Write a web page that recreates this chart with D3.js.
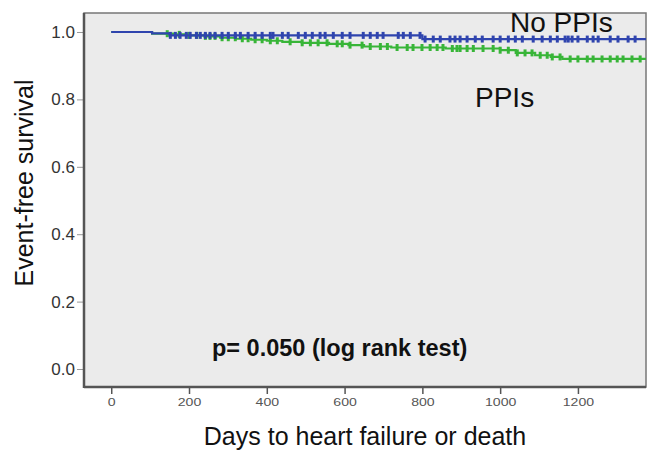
<!DOCTYPE html>
<html>
<head>
<meta charset="utf-8">
<script src="https://cdn.jsdelivr.net/npm/d3@7"></script>
<style>
  body { margin: 0; background: #fff; }
  text { font-family: "Liberation Sans", Arial, sans-serif; }
</style>
</head>
<body>
<div id="chart-area"></div>
<script>
// Dados (Kaplan-Meier)
const xTicks = [0, 200, 400, 600, 800, 1000, 1200]
const yTicks = [0.0, 0.2, 0.4, 0.6, 0.8, 1.0]

// PPIs (verde): tempos dos eventos e sobrevida apos cada evento
const ppiTimes = [0, 105, 160, 200, 240, 280, 320, 360, 400, 440, 490, 560, 610, 650, 720, 860, 1000, 1040, 1090, 1130, 1160, 1375]
const ppiSurv  = [1.0, 0.995, 0.993, 0.990, 0.987, 0.983, 0.980, 0.977, 0.974, 0.971, 0.968, 0.965, 0.961, 0.957, 0.954, 0.951, 0.946, 0.938, 0.931, 0.926, 0.920, 0.920]
const ppiCensor = [144, 175, 200, 220, 242, 254, 267, 285, 301, 319, 337, 352, 370, 388, 409, 427,
  460, 491, 512, 532, 555, 581, 594, 614, 645, 666, 692, 710, 735, 761, 776, 799, 820, 838, 853, 877, 889,
  897, 915, 931, 956, 982, 1000, 1021, 1044, 1064, 1082, 1103, 1121, 1134, 1154, 1180, 1200, 1224, 1239,
  1262, 1283, 1301, 1316, 1339, 1360]

// No PPIs (azul)
const noPpiTimes = [0, 105, 150, 800, 1375]
const noPpiSurv  = [1.0, 0.996, 0.990, 0.979, 0.979]
const noPpiCensor = [152, 165, 177, 193, 203, 219, 229, 242, 254, 267, 285, 301, 319, 332, 352, 370, 388, 409,
  416, 440, 455, 481, 499, 517, 537, 550, 571, 594, 614, 648, 666, 684, 699, 738, 751, 769, 794, 807, 828, 846,
  871, 884, 897, 915, 936, 954, 982, 1000, 1021, 1039, 1057, 1085, 1108, 1129, 1147, 1167, 1175, 1185, 1200,
  1224, 1239, 1252, 1283, 1303, 1329, 1347]

const COLORS = { ppi: "#38b538", noPpi: "#2f44ae" }

// Area do grafico
const PLOT = { LEFT: 84, RIGHT: 646, TOP: 13, BOTTOM: 387 }

const svg = d3.select("#chart-area").append("svg")
  .attr("width", 647)
  .attr("height", 452)

const x = d3.scaleLinear()
  .domain([-70, 1375])
  .range([PLOT.LEFT, PLOT.RIGHT])

const y = d3.scaleLinear()
  .domain([-0.0534, 1.0564])
  .range([PLOT.BOTTOM, PLOT.TOP])

// fundo cinza
svg.append("rect")
  .attr("x", PLOT.LEFT)
  .attr("y", PLOT.TOP)
  .attr("width", PLOT.RIGHT - PLOT.LEFT)
  .attr("height", PLOT.BOTTOM - PLOT.TOP)
  .attr("fill", "#ebebeb")
  .attr("stroke", "#777")
  .attr("stroke-width", 1.5)

// eixo X
const xAxisCall = d3.axisBottom(x)
  .tickValues(xTicks)
  .tickSize(7)
  .tickPadding(4)
  .tickFormat(d3.format("d"))
const xg = svg.append("g")
  .attr("transform", `translate(0, ${PLOT.BOTTOM})`)
  .call(xAxisCall)
xg.select(".domain").remove()
xg.selectAll("line").attr("stroke", "#555").attr("stroke-width", 1.5)
xg.selectAll("text")
  .attr("fill", "#555")
  .attr("font-size", "11px")
  .attr("transform", "scale(1.28,1)")

// eixo Y
const yAxisCall = d3.axisLeft(y)
  .tickValues(yTicks)
  .tickSize(7)
  .tickPadding(2)
  .tickFormat(d3.format(".1f"))
const yg = svg.append("g")
  .attr("transform", `translate(${PLOT.LEFT}, 0)`)
  .call(yAxisCall)
yg.select(".domain").remove()
yg.selectAll("line").attr("stroke", "#999").attr("stroke-width", 1)
yg.selectAll("text")
  .attr("fill", "#333")
  .attr("font-size", "17px")

// bordas esquerda e inferior mais grossas
svg.append("line")
  .attr("x1", PLOT.LEFT).attr("x2", PLOT.LEFT)
  .attr("y1", PLOT.TOP).attr("y2", PLOT.BOTTOM + 1)
  .attr("stroke", "#555").attr("stroke-width", 2.5)
svg.append("line")
  .attr("x1", PLOT.LEFT).attr("x2", PLOT.RIGHT)
  .attr("y1", PLOT.BOTTOM).attr("y2", PLOT.BOTTOM)
  .attr("stroke", "#555").attr("stroke-width", 2.5)

// curvas em degrau
const line = d3.line()
  .x(d => x(d[0]))
  .y(d => y(d[1]))
  .curve(d3.curveStepAfter)

function survAt(times, surv, t) {
  let s = surv[0]
  for (let i = 0; i < times.length; i++) {
    if (times[i] <= t) s = surv[i]
  }
  return s
}

function drawCurve(times, surv, censor, color) {
  svg.append("path")
    .datum(times.map((t, i) => [t, surv[i]]))
    .attr("fill", "none")
    .attr("stroke", color)
    .attr("stroke-width", 2.2)
    .attr("d", line)

  svg.append("g").selectAll("line")
    .data(censor)
    .enter().append("line")
    .attr("x1", d => x(d))
    .attr("x2", d => x(d))
    .attr("y1", d => y(survAt(times, surv, d)) - 3.5)
    .attr("y2", d => y(survAt(times, surv, d)) + 3.5)
    .attr("stroke", color)
    .attr("stroke-width", 3)
}

drawCurve(ppiTimes, ppiSurv, ppiCensor, COLORS.ppi)
drawCurve(noPpiTimes, noPpiSurv, noPpiCensor, COLORS.noPpi)

// rotulos das curvas
svg.append("text")
  .attr("x", 510)
  .attr("y", 32)
  .attr("font-size", "28px")
  .attr("fill", "#111")
  .text("No PPIs")

svg.append("text")
  .attr("x", 475)
  .attr("y", 107)
  .attr("font-size", "28px")
  .attr("fill", "#111")
  .text("PPIs")

// p valor
svg.append("text")
  .attr("x", 212)
  .attr("y", 356)
  .attr("font-size", "23.5px")
  .attr("font-weight", "bold")
  .attr("fill", "#111")
  .text("p= 0.050 (log rank test)")

// X label
svg.append("text")
  .attr("x", (PLOT.LEFT + PLOT.RIGHT) / 2)
  .attr("y", 445)
  .attr("font-size", "25px")
  .attr("text-anchor", "middle")
  .attr("fill", "#111")
  .text("Days to heart failure or death")

// Y label
svg.append("text")
  .attr("x", -183)
  .attr("y", 33)
  .attr("font-size", "25px")
  .attr("text-anchor", "middle")
  .attr("transform", "rotate(-90)")
  .attr("fill", "#111")
  .text("Event-free survival")
</script>
</body>
</html>
